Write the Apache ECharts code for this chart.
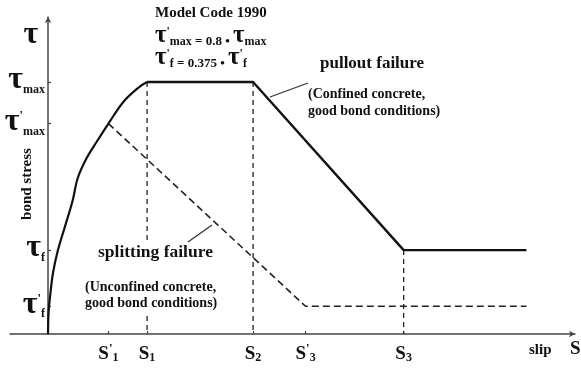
<!DOCTYPE html>
<html>
<head>
<meta charset="utf-8">
<script src="https://cdn.jsdelivr.net/npm/echarts@6/dist/echarts.min.js"></script>
<style>
  html, body { margin: 0; padding: 0; background: #fff; }
  #chart { width: 581px; height: 369px; }
</style>
</head>
<body>
<div id="chart"></div>
<script>
// Bond stress - slip relation (Model Code 1990), slip in units of S1, stress in units of tau_max

// ascending branch, common to both failure modes
const ascendSlip   = [0, 0.005, 0.02, 0.05, 0.10, 0.17, 0.25, 0.30, 0.39, 0.49, 0.61, 0.76, 0.92, 1.00];
const ascendStress = [0, 0.083, 0.147, 0.242, 0.333, 0.425, 0.532, 0.619, 0.698, 0.762, 0.835, 0.921, 0.980, 1.00];

// pullout failure (confined concrete)
const pulloutSlip   = [1.00, 2.07, 3.59, 4.83];
const pulloutStress = [1.00, 1.00, 0.333, 0.333];

// splitting failure (unconfined concrete)
const splitSlip   = [0.61, 2.60, 4.83];
const splitStress = [0.835, 0.11, 0.11];

// dashed guides dropping from the characteristic slips to the slip axis
const guideSlip   = [1.00, 2.07, 3.59];
const guideStress = [1.00, 1.00, 0.333];

// axis ticks and labels
const slipTicks  = [0.61, 1.00, 2.07, 2.60, 3.59];
const slipLabels = ["{s|S}{p|'}{b|1}", "{s|S}{b|1}", "{s|S}{b|2}", "{s|S}{p|'}{b|3}", "{s|S}{b|3}"];
const stressTicks  = [0.11, 0.333, 0.835, 1.00];
const stressLabels = ["{t|τ}{p|'}{b|f}", "{t|τ}{b|f}", "{t|τ}{p|'}{b|max}", "{t|τ}{b|max}"];
const stressSymbolAt = 1.18;

// slip axis starts a little left of zero slip
const slipMin = -0.384, slipMax = 5.32;
const gridLeft = 10, gridRight = 6, plotWidth = 581 - gridLeft - gridRight;
// move the stress axis from the grid edge onto zero slip
const stressAxisShift = -plotWidth * (0 - slipMin) / (slipMax - slipMin);

const SERIF = "'Liberation Serif', 'DejaVu Serif', serif";

const axisRich = {
  s: { fontFamily: SERIF, fontWeight: 'bold', fontSize: 19, color: '#111', verticalAlign: 'bottom', lineHeight: 22 },
  t: { fontFamily: SERIF, fontWeight: 'bold', fontSize: 32, color: '#111', verticalAlign: 'bottom', lineHeight: 28 },
  b: { fontFamily: SERIF, fontWeight: 'bold', fontSize: 12, color: '#111', verticalAlign: 'bottom', lineHeight: 6 },
  p: { fontFamily: SERIF, fontWeight: 'bold', fontSize: 13, color: '#111', verticalAlign: 'top', lineHeight: 8 }
};

const formulaRich = {
  t: { fontFamily: SERIF, fontWeight: 'bold', fontSize: 25, fill: '#111', verticalAlign: 'bottom', lineHeight: 22 },
  b: { fontFamily: SERIF, fontWeight: 'bold', fontSize: 12, fill: '#111', verticalAlign: 'bottom', lineHeight: 6 },
  p: { fontFamily: SERIF, fontWeight: 'bold', fontSize: 12, fill: '#111', verticalAlign: 'top', lineHeight: 8 },
  e: { fontFamily: SERIF, fontWeight: 'bold', fontSize: 13, fill: '#111', verticalAlign: 'bottom', lineHeight: 13 }
};

function pairs(xs, ys) { return xs.map((x, i) => [x, ys[i]]); }
function pickLabel(v, ticks, labels) {
  for (let i = 0; i < ticks.length; i++) if (Math.abs(ticks[i] - v) < 1e-6) return labels[i];
  return '';
}

const chart = echarts.init(document.getElementById('chart'), null, { renderer: 'canvas' });

const guideSeries = guideSlip.map((x, i) => ({
  type: 'line', data: [[x, guideStress[i]], [x, 0]], symbol: 'none', silent: true, z: 1,
  lineStyle: { color: '#222', width: 1.3, type: [5, 4] }
}));

const option = {
  animation: false,
  backgroundColor: '#fff',
  grid: { left: gridLeft, right: gridRight, top: 17, bottom: 35, containLabel: false, outerBoundsMode: 'none' },
  xAxis: {
    type: 'value', min: slipMin, max: slipMax,
    splitLine: { show: false },
    axisLine: { onZero: true, symbol: ['none', 'arrow'], symbolSize: [5, 6], lineStyle: { color: '#444', width: 1.5 } },
    axisTick: { show: true, inside: true, length: 3, customValues: slipTicks, lineStyle: { color: '#444', width: 1.2 } },
    axisLabel: {
      customValues: slipTicks, margin: 8,
      formatter: v => pickLabel(v, slipTicks, slipLabels),
      rich: axisRich
    }
  },
  yAxis: {
    type: 'value', min: 0, max: 1.258, offset: stressAxisShift,
    splitLine: { show: false },
    axisLine: { onZero: false, symbol: ['none', 'arrow'], symbolSize: [5, 6], lineStyle: { color: '#444', width: 1.5 } },
    axisTick: { show: true, inside: true, length: 3, customValues: stressTicks, lineStyle: { color: '#444', width: 1.2 } },
    axisLabel: {
      customValues: stressTicks.concat([stressSymbolAt]), margin: 3,
      formatter: v => (Math.abs(v - stressSymbolAt) < 1e-6 ? '{t|τ}  ' : pickLabel(v, stressTicks, stressLabels)),
      rich: axisRich
    }
  },
  series: [
    {
      type: 'line', data: pairs(ascendSlip, ascendStress), smooth: 0.35,
      symbol: 'none', lineStyle: { color: '#111', width: 2.2 }, z: 3
    },
    {
      type: 'line', data: pairs(pulloutSlip, pulloutStress), symbol: 'none',
      lineStyle: { color: '#111', width: 2.4 }, z: 3
    },
    {
      type: 'line', data: pairs(splitSlip, splitStress), symbol: 'none',
      lineStyle: { color: '#222', width: 1.6, type: [7, 4] }, z: 3
    }
  ].concat(guideSeries),
  graphic: [
    { type: 'text', left: 155, top: 6, z: 50, style: { text: 'Model Code 1990', font: 'bold 15px ' + SERIF, fill: '#111' } },
    { type: 'text', left: 155, top: 23, z: 50, style: {
        text: "{t|τ}{p|'}{b|max}{e| = 0.8 • }{t|τ}{b|max}", rich: formulaRich } },
    { type: 'text', left: 155, top: 45, z: 50, style: {
        text: "{t|τ}{p|'}{b|f}{e| = 0.375 • }{t|τ}{p|'}{b|f}", rich: formulaRich } },
    { type: 'text', left: 320, top: 55, z: 50, style: { text: 'pullout failure', font: 'bold 17px ' + SERIF, fill: '#111' } },
    { type: 'text', left: 308, top: 86, z: 50, style: { text: '(Confined concrete,\ngood bond conditions)', font: 'bold 14px ' + SERIF, fill: '#111', lineHeight: 17 } },
    { type: 'line', z: 50, shape: { x1: 270, y1: 97, x2: 308, y2: 83 }, style: { stroke: '#333', lineWidth: 1.3 } },
    { type: 'text', left: 94, top: 240, z: 50, style: {
        text: 'splitting failure', font: 'bold 17.5px ' + SERIF, fill: '#111',
        backgroundColor: '#fff', padding: [3, 4, 2, 4] } },
    { type: 'text', left: 82, top: 263, z: 50, style: {
        text: '\n(Unconfined concrete,\ngood bond conditions)', font: 'bold 14px ' + SERIF, fill: '#111', lineHeight: 16,
        backgroundColor: '#fff', padding: [0, 3, 4, 3] } },
    { type: 'line', z: 50, shape: { x1: 188, y1: 242, x2: 212, y2: 225 }, style: { stroke: '#333', lineWidth: 1.3 } },
    { type: 'text', left: 529, top: 343, z: 50, style: { text: 'slip', font: 'bold 15px ' + SERIF, fill: '#111' } },
    { type: 'text', left: 570, top: 340, z: 50, style: { text: 'S', font: 'bold 19px ' + SERIF, fill: '#111' } },
    { type: 'text', x: 27, y: 184, rotation: Math.PI / 2, z: 50, style: {
        text: 'bond stress', font: 'bold 15px ' + SERIF, fill: '#111', align: 'center', verticalAlign: 'middle' } }
  ]
};

chart.setOption(option);
</script>
</body>
</html>
